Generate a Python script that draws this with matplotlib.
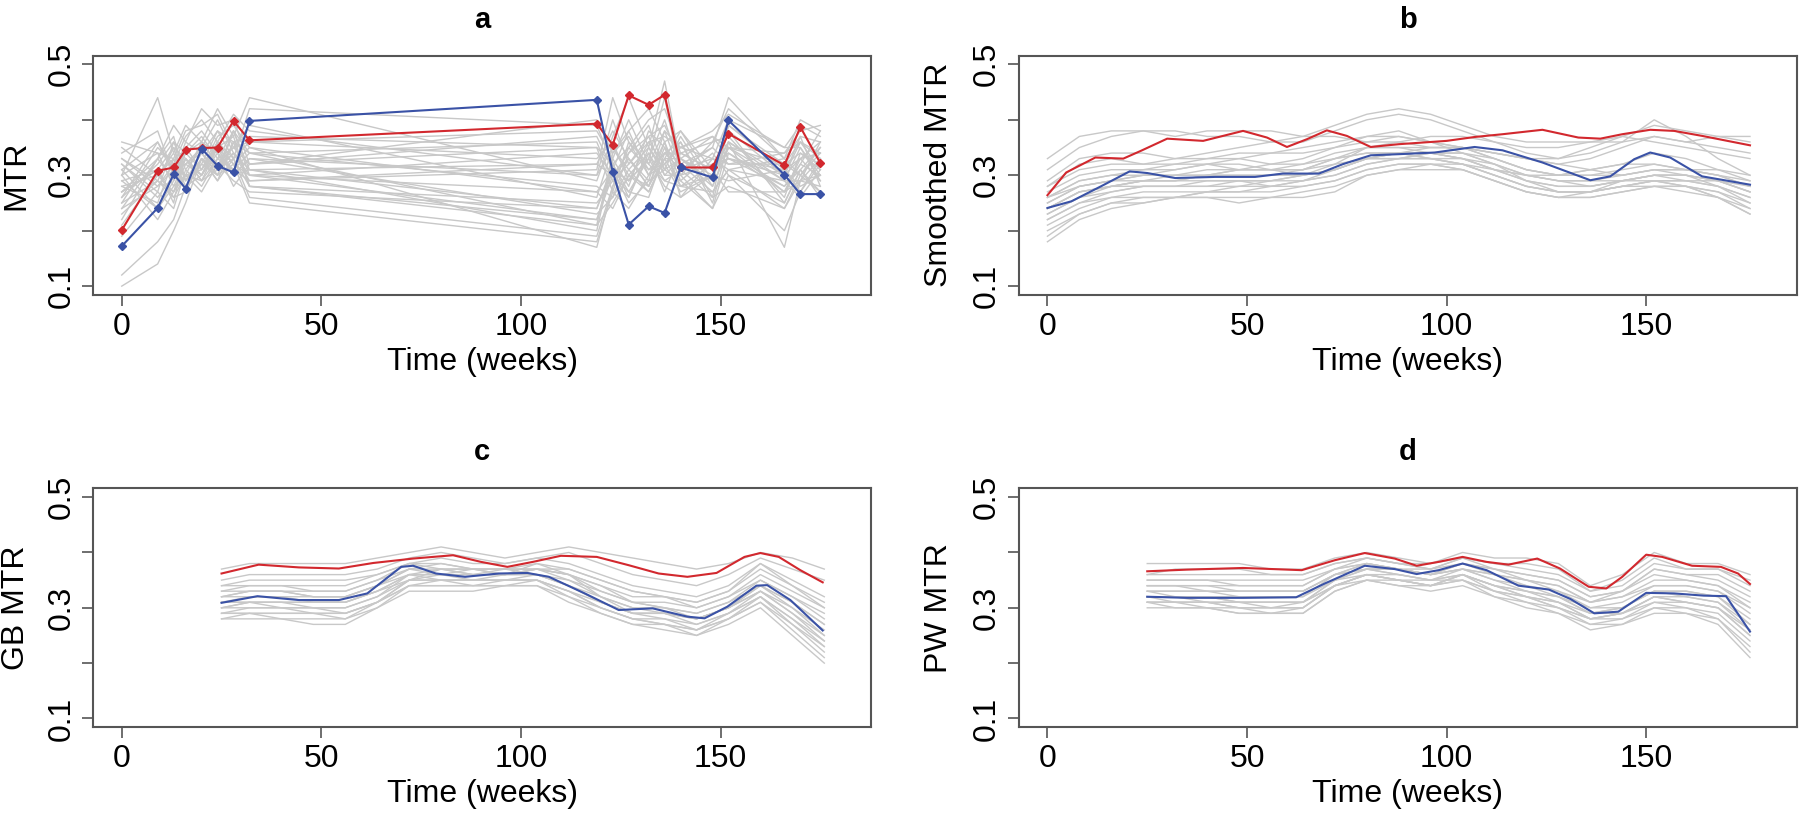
import numpy as np
import matplotlib
matplotlib.use("Agg")
import matplotlib.pyplot as plt

plt.rcParams['font.family'] = ['Liberation Sans', 'DejaVu Sans']

# ---- panel a: raw MTR at the visit times ----
weeks_a = [0, 9, 13, 16, 20, 24, 28, 32, 119, 123, 127, 132, 136, 140, 148, 152, 166, 170, 175]
red_a = [0.201, 0.308, 0.314, 0.346, 0.349, 0.350, 0.398, 0.363, 0.393, 0.355, 0.444,
         0.427, 0.445, 0.314, 0.314, 0.375, 0.318, 0.387, 0.322]
blue_a = [0.172, 0.241, 0.302, 0.276, 0.348, 0.317, 0.305, 0.398, 0.436, 0.306, 0.211,
          0.244, 0.232, 0.314, 0.296, 0.399, 0.301, 0.266, 0.266]
# other subjects, MTR x 100
gray_a = [
    [30, 34, 28, 33, 30, 36, 32, 30, 22, 30, 33, 28, 36, 26, 30, 38, 30, 33, 34],
    [27, 31, 35, 29, 33, 31, 38, 34, 28, 26, 34, 37, 30, 33, 28, 35, 27, 29, 36],
    [32, 26, 30, 36, 34, 38, 33, 36, 33, 36, 29, 33, 40, 31, 33, 32, 34, 36, 31],
    [24, 28, 32, 30, 36, 32, 35, 32, 37, 31, 38, 30, 34, 36, 25, 36, 29, 35, 29],
    [35, 30, 27, 33, 29, 35, 37, 28, 25, 29, 26, 35, 31, 29, 34, 30, 25, 31, 27],
    [22, 33, 29, 35, 38, 34, 30, 33, 30, 35, 31, 27, 33, 38, 29, 39, 31, 27, 33],
    [28, 25, 33, 28, 32, 30, 36, 37, 35, 27, 36, 32, 29, 28, 32, 34, 28, 32, 30],
    [31, 36, 31, 32, 35, 40, 34, 31, 20, 33, 28, 38, 35, 32, 27, 31, 33, 30, 35],
    [19, 27, 24, 31, 28, 33, 31, 29, 32, 38, 33, 29, 38, 30, 36, 37, 26, 34, 32],
    [26, 32, 36, 34, 31, 37, 39, 35, 27, 24, 30, 34, 27, 34, 31, 33, 30, 37, 28],
    [33, 29, 26, 27, 33, 29, 33, 26, 19, 28, 35, 31, 32, 27, 30, 29, 31, 28, 30],
    [25, 35, 32, 37, 40, 36, 41, 38, 30, 40, 32, 36, 37, 35, 33, 40, 35, 39, 37],
    [29, 24, 28, 30, 27, 32, 29, 27, 24, 32, 27, 26, 34, 31, 26, 28, 24, 29, 33],
    [21, 30, 34, 29, 34, 31, 34, 30, 34, 30, 34, 39, 31, 37, 28, 35, 32, 34, 31],
    [34, 38, 30, 34, 37, 33, 35, 39, 26, 35, 30, 28, 33, 33, 37, 33, 28, 31, 26],
    [12, 18, 22, 28, 30, 35, 32, 25, 18, 27, 24, 30, 36, 29, 24, 34, 27, 33, 29],
    [10, 14, 20, 25, 33, 29, 36, 28, 22, 31, 29, 33, 28, 26, 33, 31, 29, 26, 31],
    [30, 44, 34, 39, 36, 42, 37, 44, 29, 37, 44, 35, 47, 32, 35, 44, 33, 40, 38],
    [27, 33, 39, 36, 42, 39, 40, 32, 40, 34, 38, 42, 36, 38, 31, 36, 30, 36, 34],
    [23, 29, 27, 32, 30, 34, 31, 34, 36, 29, 32, 37, 39, 33, 29, 38, 25, 31, 35],
    [32, 27, 36, 31, 35, 31, 34, 29, 31, 44, 36, 30, 32, 35, 37, 35, 34, 38, 39],
    [29, 31, 25, 35, 31, 36, 30, 33, 23, 26, 31, 35, 30, 30, 24, 30, 20, 27, 32],
    [36, 34, 33, 38, 39, 41, 35, 36, 38, 33, 40, 32, 38, 35, 38, 41, 35, 35, 30],
    [26, 36, 30, 33, 29, 33, 38, 31, 32, 30, 27, 33, 44, 30, 32, 33, 31, 33, 36],
    [28, 30, 33, 27, 33, 30, 32, 35, 17, 28, 33, 28, 35, 28, 30, 36, 17, 29, 28],
    [31, 24, 29, 34, 36, 34, 28, 32, 35, 32, 26, 34, 29, 31, 35, 32, 32, 30, 34],
    [24, 33, 37, 29, 32, 38, 36, 34, 21, 34, 37, 31, 34, 34, 31, 27, 27, 32, 38],
    [33, 28, 31, 32, 34, 30, 38, 30, 27, 31, 29, 36, 32, 36, 26, 39, 32, 36, 33],
    [27, 31, 26, 30, 29, 31, 33, 28, 21, 25, 30, 27, 33, 28, 27, 31, 24, 30, 27],
    [30, 22, 27, 30, 31, 35, 30, 31, 24, 31, 25, 29, 31, 33, 30, 35, 29, 29, 30],
    [25, 29, 35, 33, 30, 36, 33, 42, 39, 32, 35, 40, 42, 34, 36, 42, 33, 37, 36],
]

# ---- panel b: smoothed MTR ----
red_b_wk = [0, 4.7, 12, 19, 23.4, 30, 39, 49, 55, 60, 65, 70, 75, 81, 88, 100, 107, 114,
            124, 133, 138.5, 144, 151, 157, 164, 176]
red_b = [0.264, 0.305, 0.332, 0.330, 0.344, 0.366, 0.362, 0.380, 0.368, 0.351, 0.365,
         0.381, 0.371, 0.351, 0.356, 0.362, 0.369, 0.374, 0.382, 0.368, 0.366, 0.374,
         0.382, 0.380, 0.371, 0.354]
blue_b_wk = [0, 6, 13.4, 20.6, 25, 32, 42, 52, 59, 68, 74, 81, 88, 97, 107, 114, 124,
             130, 136, 141, 147, 151, 156, 164, 176]
blue_b = [0.241, 0.253, 0.280, 0.307, 0.304, 0.295, 0.297, 0.297, 0.303, 0.303, 0.320,
          0.336, 0.338, 0.341, 0.351, 0.345, 0.323, 0.307, 0.291, 0.298, 0.329, 0.341,
          0.332, 0.298, 0.283]
gray_b_wk = [0, 8, 16, 24, 32, 40, 48, 56, 64, 72, 80, 88, 96, 104, 112, 120, 128, 136,
             144, 152, 160, 168, 176]
gray_b = [
    [33, 37, 38, 38, 37, 38, 38, 38, 37, 37, 36, 36, 37, 37, 36, 35, 35, 36, 36, 37, 36, 37, 37],
    [31, 35, 37, 38, 38, 37, 37, 36, 36, 38, 40, 41, 40, 38, 36, 34, 33, 35, 37, 39, 38, 37, 36],
    [29, 33, 34, 34, 33, 34, 35, 36, 37, 39, 41, 42, 41, 39, 37, 36, 36, 36, 37, 36, 35, 34, 33],
    [28, 31, 32, 32, 33, 33, 33, 32, 33, 35, 36, 37, 36, 35, 34, 33, 32, 33, 35, 37, 36, 35, 34],
    [27, 30, 31, 31, 31, 32, 32, 31, 30, 32, 35, 36, 35, 35, 34, 33, 32, 31, 30, 31, 31, 30, 29],
    [26, 29, 30, 31, 32, 32, 31, 31, 31, 33, 34, 34, 34, 34, 33, 31, 30, 31, 32, 32, 31, 31, 30],
    [26, 29, 30, 30, 30, 31, 31, 31, 32, 34, 35, 35, 35, 35, 33, 31, 30, 30, 30, 31, 31, 30, 28],
    [25, 28, 29, 29, 30, 30, 31, 31, 31, 33, 35, 35, 34, 33, 32, 30, 29, 29, 30, 31, 30, 29, 27],
    [25, 28, 29, 30, 30, 30, 30, 30, 30, 31, 33, 34, 34, 33, 31, 30, 29, 28, 29, 30, 30, 29, 28],
    [24, 27, 28, 29, 29, 30, 30, 30, 31, 32, 33, 33, 33, 33, 31, 29, 28, 28, 29, 30, 29, 29, 27],
    [24, 27, 28, 29, 29, 29, 29, 29, 30, 31, 33, 33, 34, 34, 32, 30, 29, 29, 29, 30, 30, 28, 26],
    [23, 26, 28, 28, 28, 29, 29, 29, 29, 30, 32, 33, 34, 33, 31, 29, 28, 28, 29, 29, 29, 28, 26],
    [23, 26, 27, 28, 28, 28, 29, 28, 29, 30, 32, 33, 33, 32, 30, 28, 27, 27, 28, 29, 28, 27, 25],
    [22, 25, 27, 28, 28, 28, 28, 28, 28, 29, 31, 32, 32, 32, 30, 28, 27, 27, 28, 28, 28, 27, 24],
    [22, 25, 26, 27, 27, 27, 27, 27, 28, 29, 31, 32, 32, 31, 29, 27, 26, 26, 27, 28, 28, 26, 24],
    [21, 24, 26, 26, 26, 26, 26, 26, 27, 28, 30, 31, 32, 31, 29, 27, 26, 26, 27, 28, 27, 26, 23],
    [20, 23, 25, 26, 26, 26, 25, 26, 26, 27, 30, 31, 31, 31, 29, 27, 26, 27, 28, 29, 28, 26, 23],
    [19, 23, 25, 25, 26, 27, 27, 28, 29, 31, 33, 34, 33, 32, 30, 28, 27, 27, 28, 29, 29, 28, 25],
    [18, 22, 24, 25, 26, 27, 28, 29, 30, 31, 33, 34, 33, 32, 31, 30, 30, 31, 32, 34, 33, 31, 29],
    [26, 28, 29, 30, 31, 32, 33, 34, 34, 35, 37, 38, 36, 34, 32, 29, 27, 27, 29, 30, 30, 29, 27],
    [28, 32, 33, 32, 32, 33, 34, 34, 35, 36, 37, 37, 36, 35, 34, 33, 33, 34, 36, 40, 37, 33, 30],
    [24, 27, 28, 29, 29, 30, 31, 32, 32, 33, 34, 34, 35, 35, 33, 31, 30, 30, 31, 32, 31, 30, 28],
]

# ---- panel c: GB MTR ----
red_c_wk = [25, 34.3, 44.4, 54.4, 63, 73, 83, 90, 96.6, 103, 110, 119, 127, 134.5, 141.7,
            149, 156, 160, 164.6, 170, 175.6]
red_c = [0.362, 0.378, 0.373, 0.371, 0.381, 0.389, 0.395, 0.383, 0.374, 0.383, 0.394,
         0.392, 0.377, 0.362, 0.356, 0.363, 0.392, 0.399, 0.392, 0.368, 0.346]
blue_c_wk = [25, 34, 44.4, 54.4, 61.5, 70, 73, 78.7, 86, 94.5, 101.6, 107, 116, 124.5,
             133, 141.7, 146, 151.7, 159, 161.7, 167.5, 175.6]
blue_c = [0.309, 0.321, 0.314, 0.314, 0.326, 0.374, 0.376, 0.362, 0.356, 0.362, 0.363,
          0.356, 0.326, 0.296, 0.299, 0.284, 0.281, 0.302, 0.340, 0.341, 0.314, 0.259]
gray_cd_wk = [25, 32, 40, 48, 56, 64, 72, 80, 88, 96, 104, 112, 120, 128, 136, 144, 152,
              160, 168, 176]
gray_c = [
    [37, 38, 38, 38, 38, 39, 40, 41, 40, 39, 40, 41, 40, 39, 38, 37, 38, 40, 39, 37],
    [35, 36, 36, 36, 36, 37, 39, 40, 39, 38, 39, 40, 38, 36, 35, 34, 36, 39, 37, 35],
    [34, 35, 35, 35, 35, 36, 38, 39, 38, 38, 39, 38, 36, 34, 33, 32, 34, 38, 35, 32],
    [33, 34, 34, 34, 34, 36, 38, 38, 37, 37, 38, 37, 35, 33, 32, 31, 33, 37, 34, 31],
    [33, 33, 33, 33, 33, 35, 38, 37, 37, 37, 37, 36, 34, 32, 32, 30, 32, 36, 33, 30],
    [32, 33, 33, 32, 32, 34, 37, 37, 36, 37, 37, 36, 33, 31, 31, 30, 32, 35, 32, 29],
    [32, 32, 32, 32, 32, 34, 37, 36, 36, 36, 37, 35, 33, 31, 30, 29, 31, 35, 32, 28],
    [31, 32, 32, 31, 31, 33, 36, 36, 36, 36, 36, 35, 32, 30, 30, 29, 31, 34, 31, 27],
    [31, 31, 31, 31, 31, 33, 36, 36, 35, 36, 36, 34, 32, 30, 29, 28, 30, 34, 30, 26],
    [30, 31, 31, 30, 30, 32, 36, 35, 35, 35, 36, 34, 31, 29, 29, 28, 30, 33, 30, 25],
    [30, 30, 30, 30, 30, 32, 35, 35, 35, 35, 35, 33, 31, 29, 28, 27, 29, 33, 29, 24],
    [29, 30, 30, 29, 29, 31, 35, 35, 34, 35, 35, 33, 30, 28, 28, 26, 29, 32, 28, 23],
    [29, 29, 29, 29, 28, 31, 34, 34, 34, 34, 35, 32, 30, 28, 27, 26, 28, 32, 27, 22],
    [28, 29, 28, 28, 28, 30, 34, 34, 34, 34, 34, 32, 29, 27, 27, 25, 28, 31, 26, 21],
    [28, 28, 28, 27, 27, 30, 33, 33, 33, 34, 34, 31, 29, 27, 26, 25, 27, 30, 25, 20],
    [34, 34, 34, 33, 33, 35, 37, 38, 37, 36, 37, 37, 35, 33, 32, 31, 33, 38, 34, 30],
    [31, 31, 30, 30, 29, 31, 35, 37, 36, 36, 37, 36, 34, 31, 30, 28, 30, 33, 29, 25],
    [30, 31, 31, 31, 31, 33, 35, 36, 37, 37, 36, 34, 31, 29, 29, 27, 29, 32, 28, 24],
    [32, 33, 33, 32, 32, 34, 36, 37, 37, 36, 38, 36, 32, 29, 29, 28, 30, 34, 31, 27],
    [29, 29, 29, 29, 29, 31, 34, 35, 35, 35, 35, 33, 30, 28, 27, 26, 28, 31, 27, 23],
]

# ---- panel d: PW MTR ----
red_d_wk = [25, 35, 49, 56.5, 63.7, 72, 79.5, 87, 92.5, 98, 104, 110, 115.5, 122.7, 128.4,
            135.6, 140, 144, 150, 154, 161.5, 168.7, 173, 176]
red_d = [0.366, 0.369, 0.372, 0.370, 0.368, 0.386, 0.399, 0.389, 0.376, 0.383, 0.392,
         0.383, 0.378, 0.389, 0.371, 0.338, 0.335, 0.356, 0.396, 0.392, 0.376, 0.374,
         0.362, 0.343]
blue_d_wk = [25, 35, 49, 62.3, 69.5, 79.5, 87, 92.5, 98, 104, 110, 118, 125.6, 131, 137,
             143, 150, 157, 164.4, 170, 176]
blue_d = [0.320, 0.318, 0.318, 0.319, 0.344, 0.376, 0.370, 0.361, 0.368, 0.380, 0.368,
          0.340, 0.333, 0.316, 0.290, 0.293, 0.327, 0.326, 0.322, 0.321, 0.257]
gray_d = [
    [38, 38, 38, 38, 37, 37, 39, 40, 39, 38, 40, 39, 39, 38, 34, 36, 40, 38, 38, 36],
    [36, 36, 36, 36, 36, 36, 38, 39, 38, 37, 39, 38, 37, 36, 33, 34, 38, 37, 37, 34],
    [35, 35, 35, 35, 35, 35, 37, 39, 38, 37, 38, 37, 36, 35, 32, 33, 37, 36, 35, 32],
    [34, 34, 34, 34, 34, 34, 37, 38, 37, 36, 38, 36, 35, 34, 31, 32, 35, 35, 34, 30],
    [34, 34, 33, 33, 33, 33, 36, 38, 37, 36, 37, 36, 34, 33, 30, 31, 34, 34, 33, 29],
    [33, 33, 33, 32, 32, 32, 36, 37, 37, 36, 37, 35, 34, 32, 30, 30, 33, 33, 32, 28],
    [33, 32, 32, 32, 32, 32, 35, 37, 36, 35, 37, 35, 33, 32, 29, 30, 33, 32, 31, 27],
    [32, 32, 32, 31, 31, 31, 35, 37, 36, 35, 36, 34, 33, 31, 29, 29, 32, 31, 30, 26],
    [32, 31, 31, 31, 30, 31, 35, 36, 36, 35, 36, 34, 32, 31, 28, 29, 31, 31, 30, 25],
    [31, 31, 31, 30, 30, 30, 34, 36, 35, 34, 36, 33, 32, 30, 28, 28, 31, 30, 29, 24],
    [31, 31, 30, 30, 29, 30, 34, 35, 35, 34, 35, 33, 31, 30, 27, 28, 30, 30, 28, 23],
    [31, 30, 30, 29, 29, 29, 33, 35, 34, 34, 35, 32, 31, 29, 27, 27, 30, 29, 28, 22],
    [30, 30, 30, 29, 29, 29, 33, 35, 34, 33, 34, 32, 30, 29, 26, 27, 29, 29, 27, 21],
    [32, 32, 31, 31, 31, 31, 34, 36, 35, 34, 36, 34, 33, 32, 29, 30, 33, 33, 32, 27],
    [33, 33, 33, 33, 33, 33, 36, 38, 37, 36, 38, 37, 35, 34, 31, 33, 36, 35, 34, 31],
    [35, 35, 35, 34, 34, 34, 37, 38, 37, 37, 39, 37, 36, 35, 32, 33, 37, 36, 36, 33],
    [32, 32, 32, 31, 31, 31, 34, 36, 35, 34, 36, 34, 32, 30, 28, 29, 32, 32, 31, 26],
    [34, 34, 34, 33, 33, 33, 36, 37, 37, 36, 37, 36, 35, 33, 31, 32, 34, 34, 33, 30],
    [31, 31, 31, 30, 30, 30, 34, 36, 35, 35, 35, 33, 32, 31, 28, 29, 32, 31, 30, 25],
    [36, 37, 37, 37, 36, 36, 38, 39, 38, 38, 39, 38, 38, 37, 33, 35, 39, 37, 37, 35],
]

titles = ["a", "b", "c", "d"]
ylabels = ["MTR", "Smoothed MTR", "GB MTR", "PW MTR"]
xlabel = "Time (weeks)"

RED = "#d2282e"
BLUE = "#3a52a6"
GRAY = "#c8c8c8"
FRAME = "#555555"
FS = 23

fig = plt.figure(figsize=(18, 8.14), dpi=100)
W, H = 1800, 814
boxes = [(93, 55.5, 871, 295), (1018.7, 55.5, 1796.7, 295),
         (93, 488.3, 871, 727.3), (1018.7, 488.3, 1796.7, 727.3)]
axes = []
for (x0, y0, x1, y1) in boxes:
    axes.append(fig.add_axes([x0 / W, (H - y1) / H, (x1 - x0) / W, (y1 - y0) / H]))

# panel a
ax = axes[0]
for row in gray_a:
    ax.plot(weeks_a, np.array(row) / 100, color=GRAY, lw=1.0, zorder=1)
ax.plot(weeks_a, red_a, color=RED, lw=1.5, marker="D", ms=4, zorder=3)
ax.plot(weeks_a, blue_a, color=BLUE, lw=1.5, marker="D", ms=4, zorder=3)

# panel b
ax = axes[1]
for row in gray_b:
    ax.plot(gray_b_wk, np.array(row) / 100, color=GRAY, lw=1.0, zorder=1)
ax.plot(red_b_wk, red_b, color=RED, lw=1.5, zorder=3)
ax.plot(blue_b_wk, blue_b, color=BLUE, lw=1.5, zorder=3)

# panel c
ax = axes[2]
for row in gray_c:
    ax.plot(gray_cd_wk, np.array(row) / 100, color=GRAY, lw=1.0, zorder=1)
ax.plot(red_c_wk, red_c, color=RED, lw=1.5, zorder=3)
ax.plot(blue_c_wk, blue_c, color=BLUE, lw=1.5, zorder=3)

# panel d
ax = axes[3]
for row in gray_d:
    ax.plot(gray_cd_wk, np.array(row) / 100, color=GRAY, lw=1.0, zorder=1)
ax.plot(red_d_wk, red_d, color=RED, lw=1.5, zorder=3)
ax.plot(blue_d_wk, blue_d, color=BLUE, lw=1.5, zorder=3)

for i, ax in enumerate(axes):
    x0, y0, x1, y1 = boxes[i]
    ax.set_xlim(-7.2, 187.7)
    ax.set_ylim(0.084, 0.516)
    ax.set_xticks([0, 50, 100, 150])
    ax.set_yticks([0.1, 0.2, 0.3, 0.4, 0.5])
    ax.set_yticklabels(["0.1", "", "0.3", "", "0.5"], rotation=90, va="center")
    ax.tick_params(length=8, width=1.2, color=FRAME, labelsize=FS, pad=4)
    for s in ax.spines.values():
        s.set_color(FRAME)
        s.set_linewidth(1.5)
    # panel letter, centred about 36 px above the box
    ax.text(0.5, 1 + 36 / (y1 - y0), titles[i], transform=ax.transAxes,
            ha="center", va="center", fontsize=21, fontweight="bold")
    ax.text(0.5, -0.28, xlabel, transform=ax.transAxes, ha="center", va="center",
            fontsize=FS)
    off = 77 if i % 2 == 0 else 80
    ax.text(-off / (x1 - x0), 0.5, ylabels[i], transform=ax.transAxes,
            rotation=90, ha="center", va="center", fontsize=FS)

fig.savefig("out.png", dpi=100)
